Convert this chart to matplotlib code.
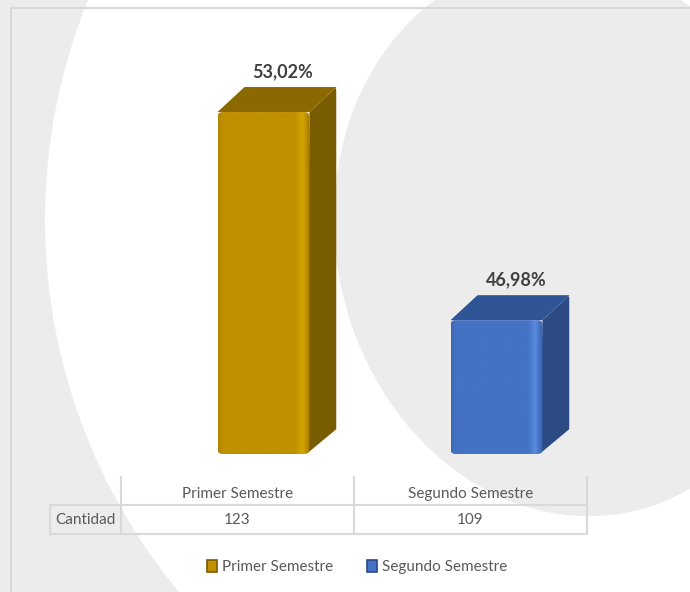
import numpy as np
import matplotlib
matplotlib.use("Agg")
import matplotlib.pyplot as plt
import matplotlib.patches as mpatches
from matplotlib.colors import LinearSegmentedColormap

# Datos
categorias = ["Primer Semestre", "Segundo Semestre"]
cantidad = [123, 109]
porcentajes = ["53,02%", "46,98%"]
fila = "Cantidad"

# Colores (frente, lateral, tapa)
frente = [["#b08400", "#c09000", "#c09000", "#d4a400", "#c29200", "#a07800"],
          ["#3d68b5", "#4472c4", "#4472c4", "#5b8be0", "#4674c6", "#3760a8"]]
paradas = [0, 0.05, 0.84, 0.92, 0.96, 1.0]
lateral = ["#7a5c00", "#2c4a84"]
tapa = ["#8b6900", "#2f5597"]

FONT = "Lato"
GRIS_TXT = "#595959"
LINEA = "#d9d9d9"

W, H = 690, 592
fig = plt.figure(figsize=(W / 100, H / 100), dpi=100, facecolor="#ececec")

# fondo en pixeles
bg = fig.add_axes([0, 0, 1, 1], zorder=0)
bg.set_xlim(0, W)
bg.set_ylim(H, 0)
bg.axis("off")
bg.add_patch(mpatches.Circle((629, 220), 584, facecolor="white", edgecolor="none"))
bg.add_patch(mpatches.Ellipse((572, 238), 2 * 236, 2 * 280, angle=-12,
                              facecolor="#ececec", edgecolor="none"))
bg.plot([11, 11], [H, 8], color=LINEA, lw=1.5)
bg.plot([11, W], [8, 8], color=LINEA, lw=1.5)

# ejes del grafico
AX_L, AX_R, AX_T, AX_B = 121, 587, 60, 454
ax = fig.add_axes([AX_L / W, 1 - AX_B / H, (AX_R - AX_L) / W, (AX_B - AX_T) / H], zorder=1)
ax.patch.set_alpha(0)
ymin, ymax = 100, 126.5
ax.set_xlim(-0.5, 1.5)
ax.set_ylim(ymin, ymax)
ax.axis("off")

px_x = 2 / (AX_R - AX_L)          # unidades x por pixel
px_y = (ymax - ymin) / (AX_B - AX_T)  # unidades y por pixel
ddx, ddy = 27 * px_x, 25 * px_y    # profundidad 3D
ancho = 92 * px_x
desplaz = 26 * px_x

x = np.arange(len(categorias)) + desplaz
bars = ax.bar(x, [c - ymin for c in cantidad], width=ancho, bottom=ymin,
              color=[f[1] for f in frente], zorder=2)

for i, b in enumerate(bars):
    x0, x1 = b.get_x(), b.get_x() + b.get_width()
    v = cantidad[i]
    # lateral y tapa
    lado = mpatches.FancyBboxPatch((x1 - 3 * px_x, ymin), ddx + 3 * px_x, v + ddy - ymin,
                                   boxstyle=f"round,pad=0,rounding_size={4 * px_x}",
                                   mutation_aspect=px_y / px_x,
                                   facecolor="none", edgecolor="none")
    ax.add_patch(lado)
    cara = mpatches.Polygon([(x1 - 3 * px_x, ymin), (x1 + ddx, ymin + ddy), (x1 + ddx, v + ddy),
                             (x1, v)], closed=True, facecolor=lateral[i], edgecolor="none", zorder=1)
    ax.add_patch(cara)
    cara.set_clip_path(lado)
    ax.add_patch(mpatches.Polygon([(x0, v), (x0 + ddx, v + ddy), (x1 + ddx, v + ddy), (x1, v)],
                                  closed=True, facecolor=tapa[i], edgecolor="none", zorder=1,
                                  joinstyle="round", lw=0))
    # frente con degradado y esquinas redondeadas
    b.set_visible(False)
    clip = mpatches.FancyBboxPatch((x0, ymin), x1 - x0, v - ymin,
                                   boxstyle=f"round,pad=0,rounding_size={5 * px_x}",
                                   mutation_aspect=px_y / px_x,
                                   facecolor="none", edgecolor="none", transform=ax.transData)
    ax.add_patch(clip)
    cmap = LinearSegmentedColormap.from_list(f"f{i}", list(zip(paradas, frente[i])))
    grad = np.linspace(0, 1, 300).reshape(1, -1)
    im = ax.imshow(grad, cmap=cmap, aspect="auto", extent=(x0, x1, ymin, v), zorder=3)
    im.set_clip_path(clip)
    ax.annotate(porcentajes[i], (x0 + (x1 - x0) / 2 + ddx / 2, v + ddy),
                xytext=(6, 15), textcoords="offset pixels", ha="center", va="center",
                fontsize=13, fontweight="bold", color="#404040", family=FONT, zorder=4)

ax.set_xlim(-0.5, 1.5)
ax.set_ylim(ymin, ymax)

# tabla de datos
col_x = [121, 354, 587]
bg.plot([50, 587], [505, 505], color=LINEA, lw=1.5, zorder=2)
bg.plot([50, 587], [534, 534], color=LINEA, lw=1.5, zorder=2)
bg.plot([50, 50], [505, 534], color=LINEA, lw=1.5, zorder=2)
for cx in col_x:
    bg.plot([cx, cx], [477, 534], color=LINEA, lw=1.5, zorder=2)
bg.text((50 + 121) / 2, 520, fila, ha="center", va="center", fontsize=11,
        color=GRIS_TXT, family=FONT)
for i, cat in enumerate(categorias):
    cx = (col_x[i] + col_x[i + 1]) / 2
    bg.text(cx, 494, cat, ha="center", va="center", fontsize=11, color=GRIS_TXT, family=FONT)
    bg.text(cx, 520, str(cantidad[i]), ha="center", va="center", fontsize=11,
            color=GRIS_TXT, family=FONT)

# leyenda
handles = [mpatches.Patch(facecolor=frente[i][1], edgecolor=lateral[i], lw=1.2)
           for i in range(len(categorias))]
fig.legend(handles, categorias, loc="center", bbox_to_anchor=(357 / W, 1 - 567 / H), ncol=2,
           frameon=False, handlelength=0.7, handleheight=0.8, handletextpad=0.3,
           columnspacing=2.2, prop={"family": FONT, "size": 11}, labelcolor=GRIS_TXT)

fig.savefig("out.png", dpi=100, facecolor=fig.get_facecolor())
